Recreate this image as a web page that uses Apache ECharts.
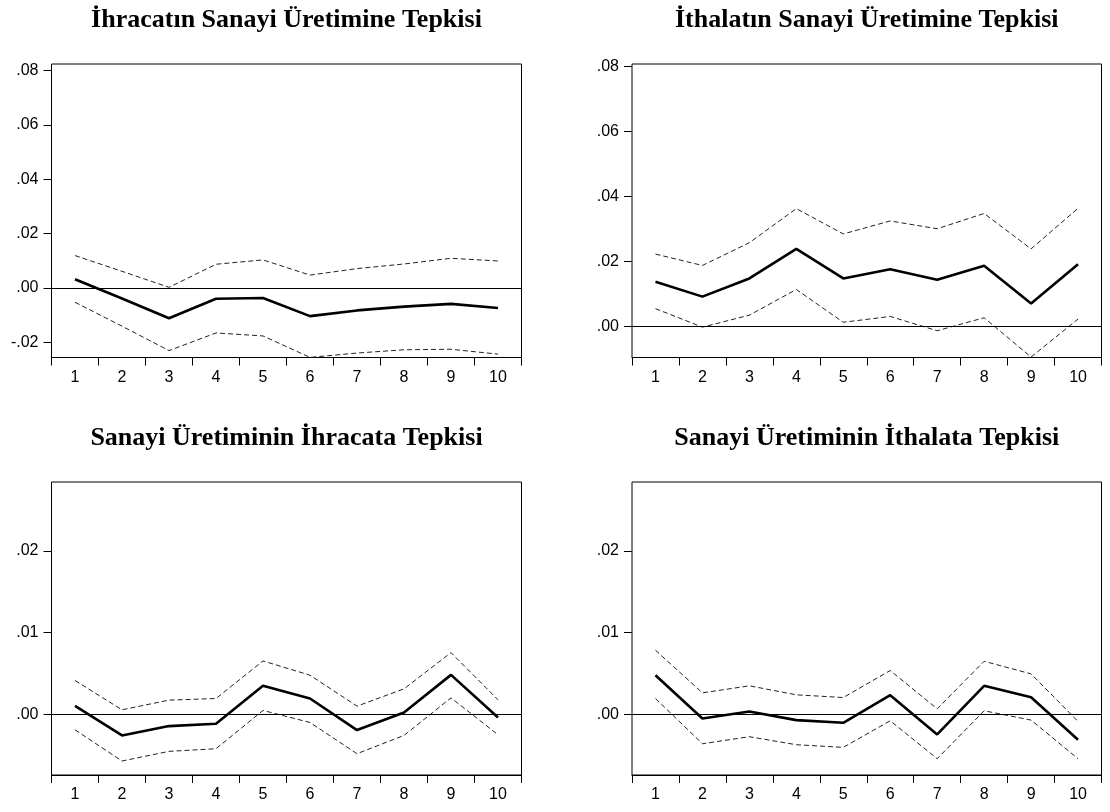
<!DOCTYPE html>
<html>
<head>
<meta charset="utf-8">
<script src="https://cdn.jsdelivr.net/npm/echarts@6/dist/echarts.min.js"></script>
<style>
html,body{margin:0;padding:0;background:#fff;}
#chart{width:1110px;height:812px;}
</style>
</head>
<body>
<div id="chart"></div>
<script>
// ---- data ----
const periods = ['1','2','3','4','5','6','7','8','9','10'];

const titles = [
  'İhracatın Sanayi Üretimine Tepkisi',
  'İthalatın Sanayi Üretimine Tepkisi',
  'Sanayi Üretiminin İhracata Tepkisi',
  'Sanayi Üretiminin İthalata Tepkisi'
];

// Panel 1: İhracatın Sanayi Üretimine Tepkisi
const p1Resp  = [0.0032, -0.0039, -0.0112, -0.0040, -0.0037, -0.0104, -0.0083, -0.0069, -0.0059, -0.0074];
const p1Upper = [0.0119, 0.0061, 0.0002, 0.0087, 0.0103, 0.0047, 0.0071, 0.0088, 0.0109, 0.0099];
const p1Lower = [-0.0053, -0.0141, -0.0231, -0.0166, -0.0177, -0.0256, -0.0240, -0.0228, -0.0226, -0.0244];

// Panel 2: İthalatın Sanayi Üretimine Tepkisi
const p2Resp  = [0.0138, 0.0092, 0.0148, 0.0239, 0.0148, 0.0176, 0.0144, 0.0187, 0.0071, 0.0192];
const p2Upper = [0.0223, 0.0188, 0.0258, 0.0363, 0.0285, 0.0325, 0.0301, 0.0348, 0.0239, 0.0364];
const p2Lower = [0.0055, -0.0002, 0.0035, 0.0114, 0.0013, 0.0031, -0.0013, 0.0027, -0.0094, 0.0023];

// Panel 3: Sanayi Üretiminin İhracata Tepkisi
const p3Resp  = [0.00106, -0.00256, -0.00142, -0.00114, 0.00350, 0.00195, -0.00191, 0.00024, 0.00484, -0.00037];
const p3Upper = [0.00415, 0.00057, 0.00175, 0.00195, 0.00654, 0.00480, 0.00102, 0.00313, 0.00756, 0.00179];
const p3Lower = [-0.00187, -0.00569, -0.00451, -0.00419, 0.00049, -0.00098, -0.00480, -0.00256, 0.00203, -0.00248];

// Panel 4: Sanayi Üretiminin İthalata Tepkisi
const p4Resp  = [0.00480, -0.00049, 0.00037, -0.00069, -0.00102, 0.00236, -0.00244, 0.00350, 0.00211, -0.00309];
const p4Upper = [0.00785, 0.00264, 0.00350, 0.00240, 0.00207, 0.00537, 0.00069, 0.00650, 0.00496, -0.00085];
const p4Lower = [0.00195, -0.00358, -0.00272, -0.00370, -0.00402, -0.00077, -0.00541, 0.00045, -0.00069, -0.00541];

// y-axis ranges and tick labels
const yMin = [-0.02564, -0.00954, -0.0074, -0.0074];
const yMax = [0.08245, 0.08082, 0.028415, 0.028415];
const yTicks1 = [-0.02, 0, 0.02, 0.04, 0.06, 0.08];
const yTicks2 = [0, 0.02, 0.04, 0.06, 0.08];
const yTicks3 = [0, 0.01, 0.02];
const yTicks4 = [0, 0.01, 0.02];

// ---- build ----
const panels = [
  {resp: p1Resp, up: p1Upper, lo: p1Lower, ticks: yTicks1},
  {resp: p2Resp, up: p2Upper, lo: p2Lower, ticks: yTicks2},
  {resp: p3Resp, up: p3Upper, lo: p3Lower, ticks: yTicks3},
  {resp: p4Resp, up: p4Upper, lo: p4Lower, ticks: yTicks4}
];
const gridPos = [
  {left: 51.5, top: 64,  width: 470,   height: 293.5},
  {left: 632,  top: 64,  width: 469.5, height: 293.5},
  {left: 51.5, top: 482, width: 470,   height: 293},
  {left: 632,  top: 482, width: 469.5, height: 293}
];
const titleY = [20, 20, 438, 438];

function fmt(v) {
  if (Math.abs(v) < 1e-9) return '.00';
  const s = Math.abs(v).toFixed(2).replace(/^0/, '');
  return (v < 0 ? '-' : '') + s;
}

const labelFont = {fontFamily: 'Liberation Sans, Arial, sans-serif', fontSize: 16, color: '#000'};

const grids = [], xAxes = [], yAxes = [], series = [], graphics = [];
panels.forEach((p, i) => {
  const g = gridPos[i];
  grids.push({left: g.left, top: g.top, width: g.width, height: g.height,
    show: true, borderColor: '#000', borderWidth: 1, backgroundColor: 'transparent', containLabel: false});
  xAxes.push({
    type: 'category', gridIndex: i, data: periods, boundaryGap: true, position: 'bottom',
    axisLine: {show: true, onZero: false, lineStyle: {color: '#000', width: 1}},
    axisTick: {show: true, inside: false, length: 8, interval: 0, alignWithLabel: false, lineStyle: {color: '#000', width: 1}},
    axisLabel: Object.assign({margin: 12, interval: 0}, labelFont),
    splitLine: {show: false}
  });
  yAxes.push({
    type: 'value', gridIndex: i, min: yMin[i], max: yMax[i], splitNumber: 5,
    axisLine: {show: false},
    axisTick: {show: true, inside: false, length: 8, customValues: p.ticks, lineStyle: {color: '#000', width: 1}},
    axisLabel: Object.assign({margin: 13, customValues: p.ticks, formatter: fmt}, labelFont),
    splitLine: {show: false}
  });
  series.push({
    type: 'line', xAxisIndex: i, yAxisIndex: i, data: p.up, symbol: 'none', silent: true,
    lineStyle: {color: '#222', width: 1, type: [5, 3]}, z: 3
  });
  series.push({
    type: 'line', xAxisIndex: i, yAxisIndex: i, data: p.lo, symbol: 'none', silent: true,
    lineStyle: {color: '#222', width: 1, type: [5, 3]}, z: 3
  });
  series.push({
    type: 'line', xAxisIndex: i, yAxisIndex: i, data: p.resp, symbol: 'none', silent: true,
    lineStyle: {color: '#000', width: 2.6}, z: 4,
    markLine: {
      silent: true, symbol: ['none', 'none'], label: {show: false},
      lineStyle: {color: '#000', width: 1, type: 'solid'},
      data: [{yAxis: 0}], animation: false
    }
  });
  graphics.push({
    type: 'text', x: g.left + g.width / 2, y: titleY[i],
    style: {text: titles[i], font: 'bold 26px "Liberation Serif", "Times New Roman", serif',
      fill: '#000', textAlign: 'center', textVerticalAlign: 'middle'}
  });
});

const chart = echarts.init(document.getElementById('chart'), null, {renderer: 'canvas'});
chart.setOption({
  animation: false,
  backgroundColor: '#fff',
  grid: grids, xAxis: xAxes, yAxis: yAxes, series: series, graphic: graphics
});
</script>
</body>
</html>
